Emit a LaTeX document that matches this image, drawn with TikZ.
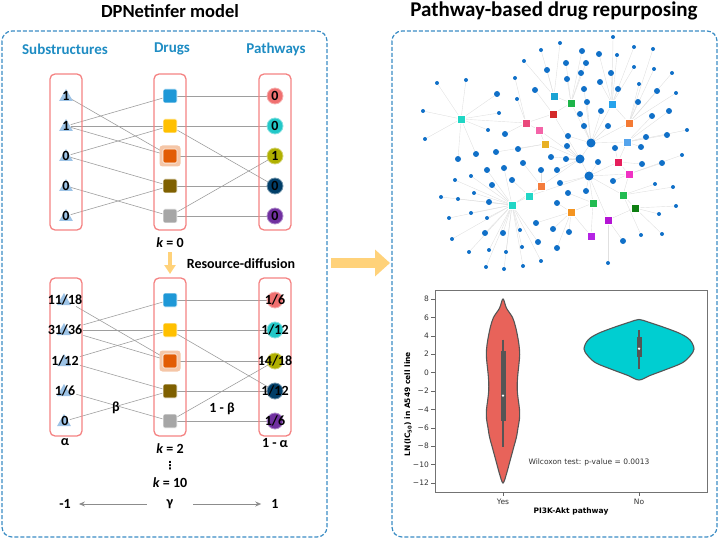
\documentclass[tikz,border=0pt]{standalone}
\usepackage{fontspec}
\setmainfont{Carlito}
\newfontfamily\plotfont{DejaVu Sans}
\usetikzlibrary{shapes.geometric,arrows.meta}
\pgfdeclarelayer{background}
\pgfsetlayers{background,main}
\definecolor{panelblue}{RGB}{58,140,196}
\definecolor{headblue}{RGB}{30,140,195}
\definecolor{boxred}{RGB}{244,130,130}
\definecolor{tri}{RGB}{157,195,230}
\definecolor{dA}{RGB}{30,152,215}
\definecolor{dB}{RGB}{255,192,0}
\definecolor{dC}{RGB}{226,92,4}
\definecolor{dD}{RGB}{127,96,0}
\definecolor{dE}{RGB}{166,166,166}
\definecolor{pA}{RGB}{240,112,112}
\definecolor{pB}{RGB}{34,200,200}
\definecolor{pC}{RGB}{176,176,0}
\definecolor{pD}{RGB}{0,62,104}
\definecolor{pE}{RGB}{112,48,160}
\definecolor{flow}{RGB}{255,210,122}
\definecolor{netblue}{RGB}{16,112,200}
\definecolor{vioRed}{RGB}{232,99,90}
\definecolor{vioCyan}{RGB}{0,206,209}
\definecolor{plotgray}{RGB}{85,85,85}
\begin{document}
\begin{tikzpicture}[x=1pt,y=-1pt,
   title/.style={font=\bfseries\fontsize{18.5}{20}\selectfont},
   head/.style={font=\bfseries\fontsize{15}{17}\selectfont,text=headblue},
   numtxt/.style={font=\bfseries\fontsize{14}{16}\selectfont,inner sep=1pt},
   panel/.style={draw=panelblue,line width=1.2pt,dash pattern=on 4pt off 2pt,rounded corners=10pt},
   colbox/.style={draw=boxred,line width=1.3pt,rounded corners=5pt},
   subtri/.style={regular polygon,regular polygon sides=3,fill=tri,minimum size=16pt,inner sep=0pt},
   drugsq/.style={fill=#1,draw=white,line width=0.6pt,rounded corners=1.5pt,minimum size=14pt,inner sep=0pt},
   pathdot/.style={circle,fill=#1,draw=#1!55!white,line width=0.8pt,minimum size=16pt,inner sep=0pt},
   link/.style={draw=black!38,line width=0.6pt},
   flowarrow/.style={draw=flow,-{Triangle[width=11pt,length=9pt]},line width=4.5pt},
   bigarrow/.style={draw=flow,-{Triangle[width=26pt,length=15pt]},line width=10pt},
   garrow/.style={draw=black!45,line width=1pt,-{Stealth[length=6pt,width=5pt]}},
   netsq/.style={fill=sqcol,draw=white,line width=0.4pt,minimum size=8pt,inner sep=0pt},
   netdot/.style={circle,fill=netblue,minimum size=#1,inner sep=0pt},
   netdot/.default=5pt,
   netedge/.style={draw=black!12,line width=0.4pt},
   plottxt/.style={font=\plotfont\fontsize{7.5}{9}\selectfont,text=black!80},
   violin/.style={draw=plotgray,line width=1.1pt}]
\useasboundingbox (0,0) rectangle (720,540);

% panels and titles
\draw[panel] (2,31) rectangle (327,537);
\draw[panel] (392,31) rectangle (717,537);
\node[title] at (170,11) {DPNetinfer model};
\node[title,font=\bfseries\fontsize{21}{23}\selectfont] at (554,11) {Pathway-based drug repurposing};
\node[head] at (65,49) {Substructures};
\node[head] at (172,49) {Drugs};
\node[head] at (276,49) {Pathways};

% column boxes
\foreach \xa/\xb in {50/82,154/186,259/291}{
  \draw[colbox] (\xa,74) rectangle (\xb,230);
  \draw[colbox] (\xa,278) rectangle (\xb,436);
}

% k = 0
\node[fill=dC!35,rounded corners=3pt,minimum size=21pt] at (170,156) {};
\foreach \i/\y/\sv/\dc/\pv/\pc in {1/96/1/dA/0/pA,2/126/1/dB/0/pB,3/156/0/dC/1/pC,4/186/0/dD/0/pD,5/216/0/dE/0/pE}{
  \node[subtri] (ts\i t) at (66,\y+1) {};
  \node[numtxt] (ts\i) at (66,\y) {\sv};
  \node[drugsq=\dc] (td\i) at (170,\y) {};
  \node[pathdot=\pc] (tp\i) at (275,\y) {};
  \node[numtxt] at (tp\i) {\pv};
}

% k = 2
\node[fill=dC!35,rounded corners=3pt,minimum size=21pt] at (170,361) {};
\foreach \i/\y/\sv/\dc/\pv/\pc in {1/300/11\slash 18/dA/1\slash 6/pA,2/330/31\slash 36/dB/1\slash 12/pB,
    3/361/1\slash 12/dC/14\slash 18/pC,4/391/1\slash 6/dD/1\slash 12/pD,5/421/0/dE/1\slash 6/pE}{
  \node[subtri] (bs\i t) at (64,\y+1) {};
  \node[numtxt] (bs\i) at (65,\y) {\sv};
  \node[drugsq=\dc] (bd\i) at (170,\y) {};
  \node[pathdot=\pc] (bp\i) at (275,\y) {};
  \node[numtxt] at (bp\i) {\pv};
}

\begin{pgfonlayer}{background}
\foreach \r in {t,b}{
  \foreach \a/\b in {1/3,2/1,2/2,2/3,3/2,3/4,4/5,5/4}
    \draw[link] (\r s\a) -- (\r d\b);
  \foreach \a/\b in {1/1,2/2,2/4,3/3,4/4,5/3,5/5}
    \draw[link] (\r d\a) -- (\r p\b);
}
\end{pgfonlayer}

\node[numtxt] (k0) at (170,243) {\textit{k} = 0};
\coordinate (dfs) at (170,252);
\coordinate (dfe) at (170,274);
\draw[flowarrow] (dfs) -- (dfe);
\node[numtxt] at (241,264) {Resource-diffusion};

\node[numtxt] at (65,442) {α};
\node[numtxt] at (116,408) {β};
\node[numtxt] at (222,409) {1 - β};
\node[numtxt] at (275,443) {1 - α};
\node[numtxt,inner sep=0pt] at (170,449) {\textit{k} = 2};
\node[inner sep=0pt,font=\plotfont\bfseries\fontsize{11}{11}\selectfont] at (170,466) {⋮};
\node[numtxt,inner sep=0pt] at (170,483) {\textit{k} = 10};

\node[numtxt] (mone) at (65,504) {-1};
\node[numtxt] (gam) at (170,504) {γ};
\node[numtxt] (pone) at (275,504) {1};
\draw[garrow,shorten <=19pt,shorten >=7pt] (gam) -- (mone);
\draw[garrow,shorten <=19pt,shorten >=9pt] (gam) -- (pone);

\coordinate (arrS) at (331,263);
\coordinate (arrE) at (390,263);
\draw[bigarrow] (arrS) -- (arrE);

% network
\foreach \n/\x/\y/\c in {A/461/119/1FD6C4,B/554/96/1AA3D3,C/571/103/1DB449,D/553/114/D42A2A,
    E/612/104/27A3EC,F/526/123/EA4A7C,G/539/130/F464A8,H/629/123/F47A34,I/545/144/E8B024,
    J/627/142/55A4EC,K/618/162/E61E5C,L/629/174/F032C4,M/541/186/F47C3C,N/529/196/22D6C6,
    O/512/205/22D6C6,P/623/195/22BC52,Q/635/208/0E7F12,R/593/203/22BC52,S/571/212/F49420,
    T/608/220/B414D4,U/591/236/B424E4}{
  \definecolor{sqcol}{HTML}{\c}
  \node[netsq] (h\n) at (\x,\y) {};
}
\foreach \n/\x/\y in {X/591/143,Y/580/159,Z/589/176}
  \node[netdot=9pt] (h\n) at (\x,\y) {};

\foreach \x/\y/\h/\s [count=\i] in {613/37/E/4,560/43/B/4,541/50/B/4,582/51/C/6,599/54/E/6,
    617/55/E/4,634/47/E/4,653/49/H/4,524/61/B/4,566/63/C/6,586/63/C/6,547/70/B/6,581/73/C/6,
    611/73/E/6,634/67/E/4,654/69/H/4,672/73/H/4,515/78/F/4,567/79/C/6,600/82/E/6,639/84/H/4,
    437/83/A/4,466/80/A/4,535/90/D/6,584/89/X/6,618/89/E/6,657/91/H/6,676/93/H/4,497/94/A/6,
    517/99/F/4,587/102/X/6,638/102/H/6,423/111/A/4,499/113/A/4,580/114/X/6,601/111/X/6,
    669/111/J/6,652/116/J/6,584/126/X/6,608/126/X/6,425/139/A/4,488/130/A/4,505/134/F/6,
    568/136/X/6,646/137/J/6,667/135/J/6,687/130/J/4,567/146/Y/6,615/148/K/6,641/147/J/6,
    518/149/I/6,496/152/I/6,476/154/A/6,458/159/A/6,551/157/Y/6,566/159/Y/6,598/162/Z/6,
    642/164/K/6,662/163/L/6,682/155/L/4,523/163/M/6,487/170/O/6,504/168/O/6,541/170/M/6,
    557/170/Y/6,471/176/O/4,455/180/O/4,512/180/N/6,613/181/L/6,492/185/O/6,560/183/Z/6,
    586/191/Z/6,568/193/R/6,655/184/P/4,673/187/P/4,441/197/O/4,458/199/O/4,474/193/O/4,
    489/202/O/6,557/203/S/6,676/206/Q/4,471/213/O/4,487/218/O/4,449/218/O/4,659/214/Q/4,
    536/223/S/6,553/229/S/6,569/232/S/6,485/233/O/6,503/233/O/6,520/230/O/4,641/235/P/4,
    662/234/Q/4,452/239/O/4,538/242/O/6,623/241/T/6,469/252/O/4,489/250/O/4,506/252/O/4,
    522/247/O/4,557/248/S/6,541/261/O/4,523/266/O/4,486/267/O/4,504/269/O/4,608/263/T/4}{
  \node[netdot=\s pt] (n\i) at (\x,\y) {};
  \begin{pgfonlayer}{background}
    \draw[netedge] (n\i) -- (h\h);
  \end{pgfonlayer}
}
\begin{pgfonlayer}{background}
\foreach \a/\b in {X/Y,Y/Z,X/E,X/J,Y/I,Z/K,Z/R,Z/P,Y/M,I/G,G/F,F/D,D/C,C/B,X/H,Z/T,R/U,
    S/U,N/O,M/N,Y/D,X/C,K/L,L/P,P/Q,T/Q,Z/L,N/Z,R/S,Y/G,A/F,O/M,E/H,J/K}
  \draw[netedge] (h\a) -- (h\b);
\end{pgfonlayer}

% violin plot
\draw[draw=black!55,line width=0.9pt] (435,290) rectangle (707,492);
\foreach \v/\t in {8/8,6/6,4/4,2/2,0/0,-2/−2,-4/−4,-6/−6,-8/−8,-10/−10,-12/−12}{
  \draw[black!60,line width=0.6pt] (431,299+9.2*8-9.2*\v) -- (435,299+9.2*8-9.2*\v);
  \node[plottxt,anchor=east,inner sep=1pt] at (430,299+9.2*8-9.2*\v) {\t};
}
\foreach \x/\t in {503/Yes,639/No}{
  \draw[black!60,line width=0.6pt] (\x,492) -- (\x,495.5);
  \node[plottxt] at (\x,501.5) {\t};
}
\node[plottxt,font=\plotfont\bfseries\fontsize{7.5}{9}\selectfont,text=black] at (571,511) {PI3K-Akt pathway};
\node[plottxt,font=\plotfont\bfseries\fontsize{7.5}{9}\selectfont,text=black,rotate=90] at (408,404) {LN(IC\textsubscript{50}) in A549 cell line};
\node[plottxt] at (589,462) {Wilcoxon test: p-value = 0.0013};

\draw[violin,fill=vioRed] plot[smooth cycle,tension=0.55] coordinates {(503,299) (506.5,308.2) (512.5,317.4)
  (515.5,326.6) (517.5,335.8) (519,345) (519.7,354.2) (519,363.4) (518,372.6) (517.3,381.8) (517.3,391)
  (518.3,400.2) (519.5,409.4) (519.5,418.6) (518,427.8) (516.5,437) (514,446.2) (511.5,455.4) (509,464.6)
  (506.5,473.8) (503,483) (499.5,473.8) (497,464.6) (494.5,455.4) (492,446.2) (489.5,437) (488,427.8)
  (486.5,418.6) (486.5,409.4) (487.7,400.2) (488.7,391) (488.7,381.8) (488,372.6) (487,363.4) (486.3,354.2)
  (487,345) (488.5,335.8) (490.5,326.6) (493.5,317.4) (499.5,308.2)};
\draw[violin,fill=vioCyan] plot[smooth cycle,tension=0.55] coordinates {(639,319.5) (648,322) (663,327)
  (680,333.5) (690,340) (694,349) (690,356) (682,363) (666,369.5) (650,375.5) (639,380) (628,375.5)
  (612,369.5) (596,363) (588,356) (584,349) (588,340) (598,333.5) (615,327) (630,322)};
\draw[plotgray,line width=1.2pt] (503,339.5) -- (503,446.8);
\fill[plotgray] (500.5,351.4) rectangle (505.5,420.8);
\fill[white] (503,395.6) circle (1.3);
\draw[plotgray,line width=1.2pt] (639,330) -- (639,369);
\fill[plotgray] (636.5,336.7) rectangle (641.5,357);
\fill[white] (639,348.7) circle (1.3);
\end{tikzpicture}
\end{document}
